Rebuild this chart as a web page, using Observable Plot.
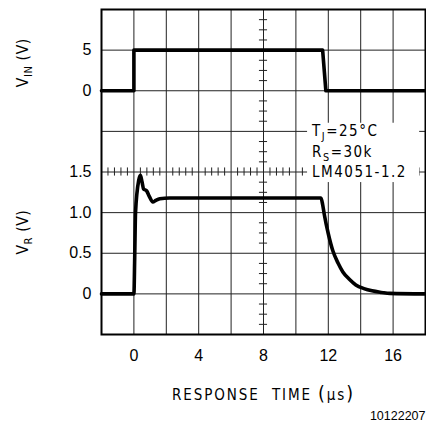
<!DOCTYPE html>
<html><head><meta charset="utf-8">
<script src="https://cdn.jsdelivr.net/npm/d3@7"></script>
<script src="https://cdn.jsdelivr.net/npm/@observablehq/plot@0.6"></script>
<style>html,body{margin:0;padding:0;background:#fff}</style>
</head><body><div id="chart"></div>
<script>
// ---- data ----
const vinTime = [-2, 0, 0, 11.65, 11.85, 18];           // µs
const vinVolts = [0, 0, 5, 5, 0, 0];                     // V
const vrTime = [-2, 0, 0.05, 0.1, 0.3, 0.4, 0.5, 0.6, 0.78, 0.95, 1.17, 1.35, 1.6, 2.2,
                11.55, 11.65, 11.75, 12.0, 12.28, 12.6, 12.9, 13.3, 13.7, 14.2, 14.7, 15.3, 15.8, 18];
const vrVolts = [0, 0, 0.45, 1.0, 1.4, 1.46, 1.38, 1.29, 1.27, 1.2, 1.13, 1.15, 1.17, 1.18,
                 1.18, 1.1, 0.98, 0.74, 0.53, 0.38, 0.27, 0.18, 0.11, 0.065, 0.037, 0.018, 0.006, 0];
const xTicks = [0, 4, 8, 12, 16];
const yTickDiv = [1, 2, 3, 4, 6, 7];
const yTickLabels = ["0", "0.5", "1.0", "1.5", "0", "5"];
const annLines = ["T_{J}=25°C", "R_{S}=30k", "LM4051-1.2"];
const yTitles = ["V_{IN} (V)", "V_{R} (V)"];
const xTitle = "RESPONSE  TIME (µs)";
const figId = "10122207";

// oscilloscope screen: 10 x 8 divisions, 2 µs/div; VR 0.5 V/div (0 V at div 1), VIN 5 V/div (0 V at div 6)
const vrDiv = v => 1 + v / 0.5;
const vinDiv = v => 6 + v / 5;
const vinData = vinTime.map((t, i) => ({t, d: vinDiv(vinVolts[i])}));
const vrData = vrTime.map((t, i) => ({t, d: vrDiv(vrVolts[i])}));

const xGrid = d3.range(0, 17, 2);
const yGrid = d3.range(1, 8);
const minorX = d3.range(0, 51).filter(i => i % 5 !== 0).map(i => -2 + i * 0.4);
const minorY = d3.range(0, 33).filter(i => i % 4 !== 0).map(i => i * 0.25);

const annX = 11.0;
const annBox = {x1: annX - 0.28, x2: 17.64, y1: 3.74, y2: 5.2};

const labelFont = "'DejaVu Sans Condensed', 'Liberation Sans Narrow', 'DejaVu Sans', sans-serif";
const numFont = "'Liberation Sans', Arial, sans-serif";

const chart = Plot.plot({
  width: 426, height: 434,
  marginLeft: 101, marginRight: 1, marginTop: 9, marginBottom: 100,
  x: {domain: [-2, 18]},
  y: {domain: [0, 8]},
  style: {background: "#fff", color: "#000", fontFamily: numFont, fontSize: "16px"},
  marks: [
    Plot.ruleX(xGrid, {stroke: "#222", strokeWidth: 1}),
    Plot.ruleY(yGrid, {stroke: "#222", strokeWidth: 1}),
    Plot.ruleX(minorX, {x: d => d, y1: 4 - 0.1, y2: 4 + 0.1, stroke: "#222", strokeWidth: 1}),
    Plot.ruleY(minorY, {y: d => d, x1: 8 - 0.25, x2: 8 + 0.25, stroke: "#222", strokeWidth: 1}),
    Plot.rect([annBox], {x1: "x1", x2: "x2", y1: "y1", y2: "y2", fill: "white"}),
    Plot.frame({stroke: "#000", strokeWidth: 2}),
    Plot.line(vinData, {x: "t", y: "d", stroke: "#000", strokeWidth: 3.6, strokeLinejoin: "round"}),
    Plot.line(vrData, {x: "t", y: "d", stroke: "#000", strokeWidth: 3.6, strokeLinejoin: "round",
      curve: "monotone-x"}),
    Plot.axisX(xTicks, {tickSize: 0, tickPadding: 15, label: null, fontSize: 16, fontFamily: numFont}),
    Plot.axisY(yTickDiv, {tickSize: 0, tickPadding: 10, label: null, fontSize: 16, fontFamily: numFont,
      tickFormat: d => yTickLabels[yTickDiv.indexOf(d)]}),
    Plot.text(annLines, {x: annX, y: (d, i) => 5 - 0.5 * i, text: d => d, textAnchor: "start",
      fontSize: 15, fontFamily: labelFont, fill: "#000"}),
    Plot.text(yTitles, {frameAnchor: "left", y: (d, i) => i === 0 ? 6.69 : 2.52, text: d => d,
      textAnchor: "middle", dx: -78, rotate: -90, fontSize: 15.5, fontFamily: labelFont, fill: "#000"}),
    Plot.text([xTitle], {frameAnchor: "bottom", text: d => d, dy: 65, fontSize: 15,
      fontFamily: labelFont, fill: "#000"}),
    Plot.text([figId], {frameAnchor: "bottom-right", text: d => d, textAnchor: "end", dy: 85,
      fontSize: 12.5, fontFamily: numFont, fill: "#000"})
  ]
});

const NS = "http://www.w3.org/2000/svg";
// subscripts (V_{IN} etc.), larger parentheses and letter spacing
d3.select(chart).selectAll("text").each(function () {
  const s = this.textContent;
  if (s === xTitle) {
    this.setAttribute("letter-spacing", "1.9");
    this.textContent = "";
    for (const p of s.split(/([()])/).filter(p => p.length)) {
      const ts = document.createElementNS(NS, "tspan");
      ts.textContent = p;
      if (p === "(" || p === ")") ts.setAttribute("font-size", "1.3em");
      this.appendChild(ts);
    }
    return;
  }
  if (annLines.includes(s)) this.setAttribute("letter-spacing", "1.5");
  if (yTitles.includes(s)) this.setAttribute("letter-spacing", "0.6");
  if (!s.includes("_{")) return;
  const parts = s.split(/(_\{[^}]*\})/).filter(p => p.length);
  this.textContent = "";
  let shifted = false;
  for (const p of parts) {
    const ts = document.createElementNS(NS, "tspan");
    if (p.startsWith("_{")) {
      ts.textContent = p.slice(2, -1);
      ts.setAttribute("font-size", "0.72em");
      ts.setAttribute("dy", "4");
      shifted = true;
    } else {
      ts.textContent = p;
      if (shifted) { ts.setAttribute("dy", "-4"); shifted = false; }
    }
    this.appendChild(ts);
  }
});

document.getElementById("chart").appendChild(chart);
</script>
</body></html>
